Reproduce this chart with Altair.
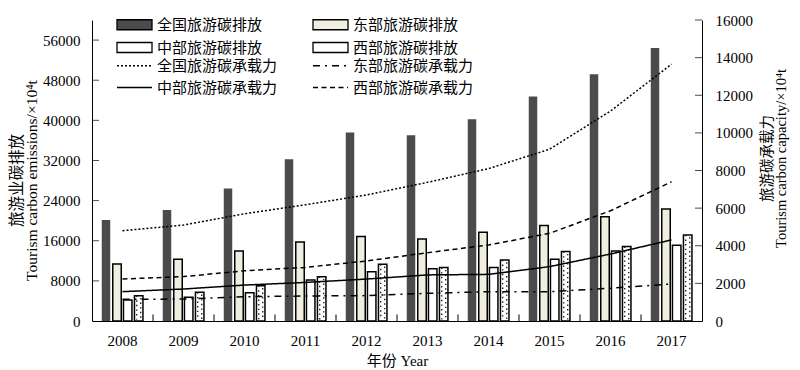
import altair as alt
import pandas as pd

years = ["2008", "2009", "2010", "2011", "2012", "2013", "2014", "2015", "2016", "2017"]

# tourism carbon emissions (x10^4 t), left axis
emis_national = [20150, 22150, 26400, 32260, 37570, 37040, 40240, 44750, 49210, 54400]
emis_east = [11370, 12300, 13960, 15760, 16820, 16360, 17690, 19020, 20800, 22340]
emis_central = [4190, 4730, 5650, 8180, 9840, 10440, 10640, 12300, 13960, 15100]
emis_west = [5050, 5720, 7040, 8840, 11310, 10640, 12170, 13830, 14830, 17160]

# tourism carbon capacity (x10^4 t), right axis
cap_national = [4800, 5100, 5700, 6180, 6700, 7370, 8100, 9130, 11160, 13650]
cap_east = [1150, 1170, 1290, 1330, 1350, 1470, 1560, 1560, 1740, 1970]
cap_central = [1560, 1700, 1910, 2050, 2230, 2450, 2480, 2890, 3560, 4310]
cap_west = [2230, 2360, 2670, 2850, 3190, 3630, 4040, 4660, 5860, 7400]

left_ticks = [8000, 16000, 24000, 32000, 40000, 48000, 56000]
left_labels = [0, 8000, 16000, 24000, 32000, 40000, 48000, 56000]
right_ticks = [2000, 4000, 6000, 8000, 10000, 12000, 14000, 16000]
right_labels = [0, 2000, 4000, 6000, 8000, 10000, 12000, 14000, 16000]

bar_names = ["全国旅游碳排放", "东部旅游碳排放", "中部旅游碳排放", "西部旅游碳排放"]
line_names = ["全国旅游碳承载力", "东部旅游碳承载力", "中部旅游碳承载力", "西部旅游碳承载力"]
bar_color_map = {"全国旅游碳排放": "#4b4b4b", "东部旅游碳排放": "#f0eee1",
                 "中部旅游碳排放": "#ffffff", "西部旅游碳排放": "#ffffff"}
line_dash_map = {"全国旅游碳承载力": [2, 2], "东部旅游碳承载力": [7, 5, 2, 5],
                 "中部旅游碳承载力": [1, 0], "西部旅游碳承载力": [5, 3.5]}

# legend is filled column by column: order so rows read as in the figure
bar_legend_order = [bar_names[0], bar_names[2], bar_names[1], bar_names[3]]
line_legend_order = [line_names[0], line_names[2], line_names[1], line_names[3]]

FONT = "Liberation Serif, Noto Sans CJK SC"

bars_df = pd.DataFrame({
    "year": years * 4,
    "series": [n for n in bar_names for _ in years],
    "value": emis_national + emis_east + emis_central + emis_west,
})
west_df = pd.DataFrame({"year": years, "value": emis_west})
lines_df = pd.DataFrame({
    "year": years * 4,
    "series": [n for n in line_names for _ in years],
    "value": cap_national + cap_east + cap_central + cap_west,
})
xtick_df = pd.DataFrame({"year": years[:-1], "value": [0] * (len(years) - 1)})
ltick_df = pd.DataFrame({"year": [years[0]] * len(left_ticks), "value": left_ticks})
rtick_df = pd.DataFrame({"year": [years[-1]] * len(right_ticks), "value": right_ticks})

x_enc = alt.X(
    "year:N",
    sort=years,
    scale=alt.Scale(domain=years, paddingInner=0, paddingOuter=0),
    axis=alt.Axis(
        title="年份 Year", labelAngle=0, ticks=False, tickSize=0, labelPadding=12,
        titlePadding=5, domainColor="black", grid=False,
    ),
)
y_left = alt.Y(
    "value:Q",
    scale=alt.Scale(domain=[0, 60000], nice=False, zero=True),
    axis=alt.Axis(
        values=left_labels, ticks=False, tickSize=0, labelPadding=12, grid=False,
        domainColor="black", format="d",
        title=["旅游业碳排放", "Tourism carbon emissions/×10⁴t"],
        titlePadding=3, titleAngle=270, titleFontSize=15.5, titleLineHeight=15,
        titleY=160,
    ),
)
y_right = alt.Y(
    "value:Q",
    scale=alt.Scale(domain=[0, 16000], nice=False, zero=True),
    axis=alt.Axis(
        orient="right", values=right_labels, ticks=False, tickSize=0, labelPadding=13,
        grid=False, domainColor="black", format="d",
        title=["旅游碳承载力", "Tourism carbon capacity/×10⁴t"],
        titlePadding=8, titleAngle=270, titleFontSize=14.5, titleLineHeight=14,
        titleY=138,
    ),
)

color_enc = alt.Color(
    "series:N",
    scale=alt.Scale(domain=bar_legend_order, range=[bar_color_map[n] for n in bar_legend_order]),
    legend=alt.Legend(
        title=None, orient="none", legendX=35, legendY=-3, columns=2,
        columnPadding=47, rowPadding=6, symbolType="M-3.5,-1H3.5V1H-3.5Z",
        symbolSize=100, labelOffset=15, symbolStrokeColor="black",
        symbolStrokeWidth=1.3, labelFontSize=15, labelFont=FONT, labelColor="black",
        padding=0,
    ),
)

offsets = [-16.5, -5.5, 5.2, 16.2]
bar_layers = []
for i, name in enumerate(bar_names):
    if i == 0:
        mk = alt.Chart(bars_df).mark_bar(width=8.5, xOffset=offsets[i], strokeWidth=0)
    else:
        mk = alt.Chart(bars_df).mark_bar(width=8.5, xOffset=offsets[i], stroke="black", strokeWidth=1.5)
    bar_layers.append(
        mk.transform_filter(alt.datum.series == name).encode(x=x_enc, y=y_left, color=color_enc)
    )

dots1 = alt.Chart(west_df).mark_rule(
    xOffset=offsets[3] - 2, strokeDash=[1.4, 3.2], color="#222", strokeWidth=1.4
).encode(x=x_enc, y=y_left, y2=alt.datum(300))
dots2 = alt.Chart(west_df).mark_rule(
    xOffset=offsets[3] + 2, strokeDash=[1.4, 3.2], strokeDashOffset=2.3, color="#222", strokeWidth=1.4
).encode(x=x_enc, y=y_left, y2=alt.datum(300))

xticks = alt.Chart(xtick_df).mark_rule(xOffset=30.5, color="black", strokeWidth=1).encode(
    x=x_enc, y=y_left, y2=alt.datum(1300)
)
lticks = alt.Chart(ltick_df).mark_tick(xOffset=-27, size=7, thickness=1, color="black", orient="horizontal").encode(
    x=x_enc, y=y_left
)

lines = alt.Chart(lines_df).mark_line(color="black", strokeWidth=1.5).encode(
    x=x_enc,
    y=y_right,
    strokeDash=alt.StrokeDash(
        "series:N",
        scale=alt.Scale(domain=line_legend_order, range=[line_dash_map[n] for n in line_legend_order]),
        legend=alt.Legend(
            title=None, orient="none", legendX=35, legendY=38, columns=2,
            columnPadding=32, rowPadding=6, symbolType="M-3.5,0H3.5",
            symbolSize=100, labelOffset=15, symbolStrokeColor="black",
            symbolStrokeWidth=1.5, labelFontSize=15, labelFont=FONT, labelColor="black",
            padding=0,
        ),
    ),
)
rticks = alt.Chart(rtick_df).mark_tick(xOffset=27, size=7, thickness=1, color="black", orient="horizontal").encode(
    x=x_enc, y=y_right
)

left_group = alt.layer(*bar_layers, dots1, dots2, xticks, lticks)
right_group = alt.layer(lines, rticks)

chart = (
    alt.layer(left_group, right_group)
    .resolve_scale(y="independent", color="independent", strokeDash="independent")
    .properties(
        width=610, height=301,
        autosize=alt.AutoSizeParams(type="none"),
        padding={"left": 84, "top": 12, "right": 90, "bottom": 48},
        background="white",
    )
    .configure_view(stroke=None)
    .configure_axis(
        labelFont=FONT, titleFont=FONT, labelFontSize=15, titleFontSize=15,
        labelColor="black", titleColor="black", titleFontWeight="normal",
    )
    .configure_legend(labelFont=FONT, labelFontSize=15)
)

chart.save("out.html", embed_options={"renderer": "svg", "actions": False})
